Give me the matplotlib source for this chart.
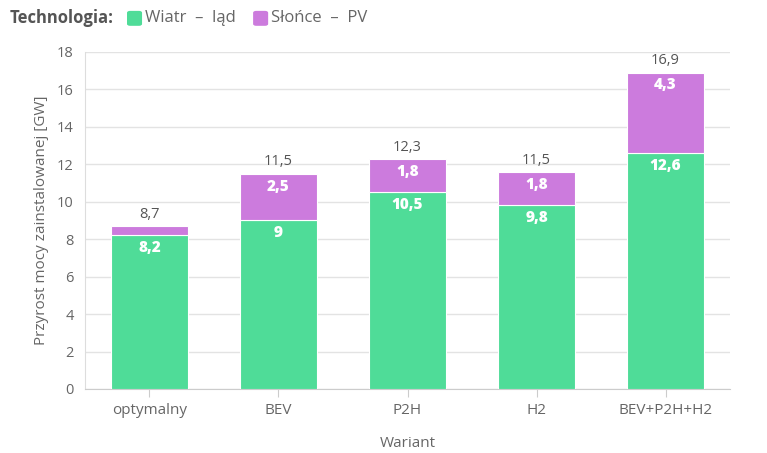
"""Stacked bar chart: installed capacity growth per variant."""

import matplotlib.pyplot as plt
from matplotlib.patches import FancyBboxPatch
import numpy as np

plt.rcParams["font.family"] = ["Open Sans", "DejaVu Sans"]

categories = ["optymalny", "BEV", "P2H", "H2", "BEV+P2H+H2"]
wind = [8.2, 9.0, 10.5, 9.8, 12.6]
solar = [0.5, 2.5, 1.8, 1.8, 4.3]
totals = [8.7, 11.5, 12.3, 11.5, 16.9]
series_names = ["Wiatr – ląd", "Słońce – PV"]
colors = ["#4fdc98", "#cc7bdd"]

GREY = "#666666"


def fmt(v):
    s = f"{v:.1f}".rstrip("0").rstrip(".")
    return s.replace(".", ",")


fig = plt.figure(figsize=(7.67, 4.53), dpi=100)
ax = fig.add_axes([0.1108, 0.1413, 0.841, 0.744])

x = np.arange(len(categories))
w = 0.6
ax.bar(x, wind, w, color=colors[0], edgecolor="white", linewidth=0.8, zorder=3)
ax.bar(x, solar, w, bottom=wind, color=colors[1], edgecolor="white", linewidth=0.8, zorder=3)

for xi, a, b, t in zip(x, wind, solar, totals):
    ax.annotate(fmt(a), (xi, a), xytext=(0, -3.5), textcoords="offset points",
                ha="center", va="top", color="white", fontsize=11, fontweight="heavy", zorder=4)
    if b >= 1:
        ax.annotate(fmt(b), (xi, a + b), xytext=(0, -3.5), textcoords="offset points",
                    ha="center", va="top", color="white", fontsize=11, fontweight="heavy", zorder=4)
    ax.annotate(fmt(t), (xi, a + b), xytext=(0, 3), textcoords="offset points",
                ha="center", va="bottom", color="#555555", fontsize=10.5, zorder=4)

ax.set_xlim(-0.5, 4.5)
ax.set_ylim(0, 18)
ax.set_yticks(np.arange(0, 19, 2))
ax.set_xticks(x)
ax.set_xticklabels(categories)
ax.grid(axis="y", color="#e3e3e3", linewidth=1, zorder=0)
for side in ["top", "right"]:
    ax.spines[side].set_visible(False)
ax.spines["left"].set_color("#dddddd")
ax.spines["bottom"].set_color("#cccccc")
ax.tick_params(axis="y", length=0, colors=GREY, labelsize=10.5, pad=8)
ax.tick_params(axis="x", length=6, color="#cccccc", colors=GREY, labelsize=11, pad=4)
ax.set_ylabel("Przyrost mocy zainstalowanej [GW]", color=GREY, fontsize=11, labelpad=6)
ax.set_xlabel("Wariant", color=GREY, fontsize=11, labelpad=13)

# legend at top
fig.text(0.013, 0.96, "Technologia:", fontsize=12, fontweight="bold",
         color="#555555", va="center", ha="left")
x0 = [0.1656, 0.330]
for xs, name, c in zip(x0, series_names, colors):
    fig.patches.append(FancyBboxPatch((xs, 0.943), 0.0196, 0.033,
                                      boxstyle="round,pad=0,rounding_size=0.004",
                                      transform=fig.transFigure, facecolor=c,
                                      edgecolor="none"))
    fig.text(xs + 0.0235, 0.96, name.replace(" – ", "  –  "), fontsize=12,
             color=GREY, va="center", ha="left")

fig.savefig("out.png", dpi=100)
